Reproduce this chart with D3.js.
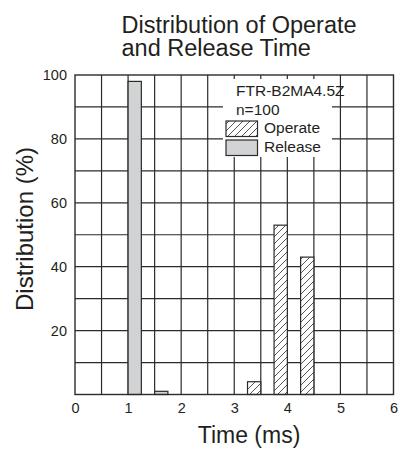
<!DOCTYPE html>
<html><head><meta charset="utf-8">
<script src="https://cdn.jsdelivr.net/npm/d3@7"></script>
<style>
body{margin:0;background:#fff;}
text{font-family:"Liberation Sans",Arial,Helvetica,sans-serif;fill:#231f20;}
</style></head>
<body><svg id="chart" width="411" height="449"></svg>
<script>
// ---- data ----
const titleLines = ["Distribution of Operate", "and Release Time"];
const xLabel = "Time (ms)";
const yLabel = "Distribution (%)";
const xTicks = [0, 1, 2, 3, 4, 5, 6];
const yTicks = [20, 40, 60, 80, 100];
const xGrid = [0.5, 1, 1.5, 2, 2.5, 3, 3.5, 4, 4.5, 5, 5.5];
const yGrid = [10, 20, 30, 40, 50, 60, 70, 80, 90];
const binWidth = 0.25;
const releaseBins = [1.0, 1.5];
const releaseValues = [98, 1];
const operateBins = [3.25, 3.75, 4.25];
const operateValues = [4, 53, 43];
const legendInfo = ["FTR-B2MA4.5Z", "n=100"];
const seriesNames = ["Operate", "Release"];

// ---- layout ----
const svg = d3.select("#chart");
const L = 75, R = 393.5, T = 75, B = 394.5;
const x = d3.scaleLinear().domain([0, 6]).range([L, R]);
const y = d3.scaleLinear().domain([0, 100]).range([B, T]);
const ink = "#2b2b2b";

const defs = svg.append("defs");
const pat = defs.append("pattern").attr("id", "hatch").attr("patternUnits", "userSpaceOnUse")
  .attr("width", 7).attr("height", 7);
pat.append("rect").attr("width", 7).attr("height", 7).attr("fill", "#fff");
pat.append("path").attr("d", "M-1,8 L8,-1 M-4,4 L4,-4 M3,11 L11,3")
  .attr("stroke", ink).attr("stroke-width", 0.8);

// grid
svg.append("g").selectAll("line").data(xGrid).join("line")
  .attr("x1", d => x(d)).attr("x2", d => x(d)).attr("y1", T).attr("y2", B)
  .attr("stroke", ink).attr("stroke-width", 1.2);
svg.append("g").selectAll("line").data(yGrid).join("line")
  .attr("y1", d => y(d)).attr("y2", d => y(d)).attr("x1", L).attr("x2", R)
  .attr("stroke", ink).attr("stroke-width", 1.2);

// legend background
svg.append("rect").attr("x", 223).attr("y", 79).attr("width", 109).attr("height", 78).attr("fill", "#fff");

// bars
svg.append("g").selectAll("rect").data(releaseBins).join("rect")
  .attr("x", d => x(d)).attr("width", d => x(d + binWidth) - x(d))
  .attr("y", (d, i) => y(releaseValues[i])).attr("height", (d, i) => B - y(releaseValues[i]))
  .attr("fill", "#d1d3d4").attr("stroke", ink).attr("stroke-width", 1.2);
svg.append("g").selectAll("rect").data(operateBins).join("rect")
  .attr("x", d => x(d)).attr("width", d => x(d + binWidth) - x(d))
  .attr("y", (d, i) => y(operateValues[i])).attr("height", (d, i) => B - y(operateValues[i]))
  .attr("fill", "url(#hatch)").attr("stroke", ink).attr("stroke-width", 1.2);

// frame
svg.append("rect").attr("x", L).attr("y", T).attr("width", R - L).attr("height", B - T)
  .attr("fill", "none").attr("stroke", ink).attr("stroke-width", 1.4);

// axes labels
const xa = svg.append("g").attr("transform", `translate(0,${B})`)
  .call(d3.axisBottom(x).tickValues(xTicks).tickSize(0).tickPadding(8).tickFormat(d3.format("d")));
xa.select(".domain").remove();
xa.selectAll("text").attr("font-size", 14.5);
const ya = svg.append("g").attr("transform", `translate(${L},0)`)
  .call(d3.axisLeft(y).tickValues(yTicks).tickSize(0).tickPadding(8).tickFormat(d3.format("d")));
ya.select(".domain").remove();
ya.selectAll("text").attr("font-size", 14.5);
svg.selectAll(".tick text").attr("fill", "#231f20");
svg.selectAll("g").attr("font-family", null);

// titles
svg.append("text").attr("x", 121.5).attr("y", 32.5).attr("font-size", 23.5).text(titleLines[0]);
svg.append("text").attr("x", 121.5).attr("y", 55.5).attr("font-size", 23.5).text(titleLines[1]);
svg.append("text").attr("x", 249).attr("y", 442.5).attr("text-anchor", "middle").attr("font-size", 23).text(xLabel);
svg.append("text").attr("transform", "translate(32.5,229) rotate(-90)").attr("text-anchor", "middle")
  .attr("font-size", 24).text(yLabel);

// legend
svg.append("text").attr("x", 236).attr("y", 96).attr("font-size", 15.5).text(legendInfo[0]);
svg.append("text").attr("x", 236).attr("y", 114.5).attr("font-size", 15.5).text(legendInfo[1]);
const sw = [["url(#hatch)", 121], ["#d1d3d4", 140]];
sw.forEach((s, i) => {
  svg.append("rect").attr("x", 226).attr("y", s[1]).attr("width", 31.5).attr("height", 15.5)
    .attr("fill", s[0]).attr("stroke", ink).attr("stroke-width", 1.2);
  svg.append("text").attr("x", 264).attr("y", s[1] + 12).attr("font-size", 15.5).text(seriesNames[i]);
});
</script></body></html>
